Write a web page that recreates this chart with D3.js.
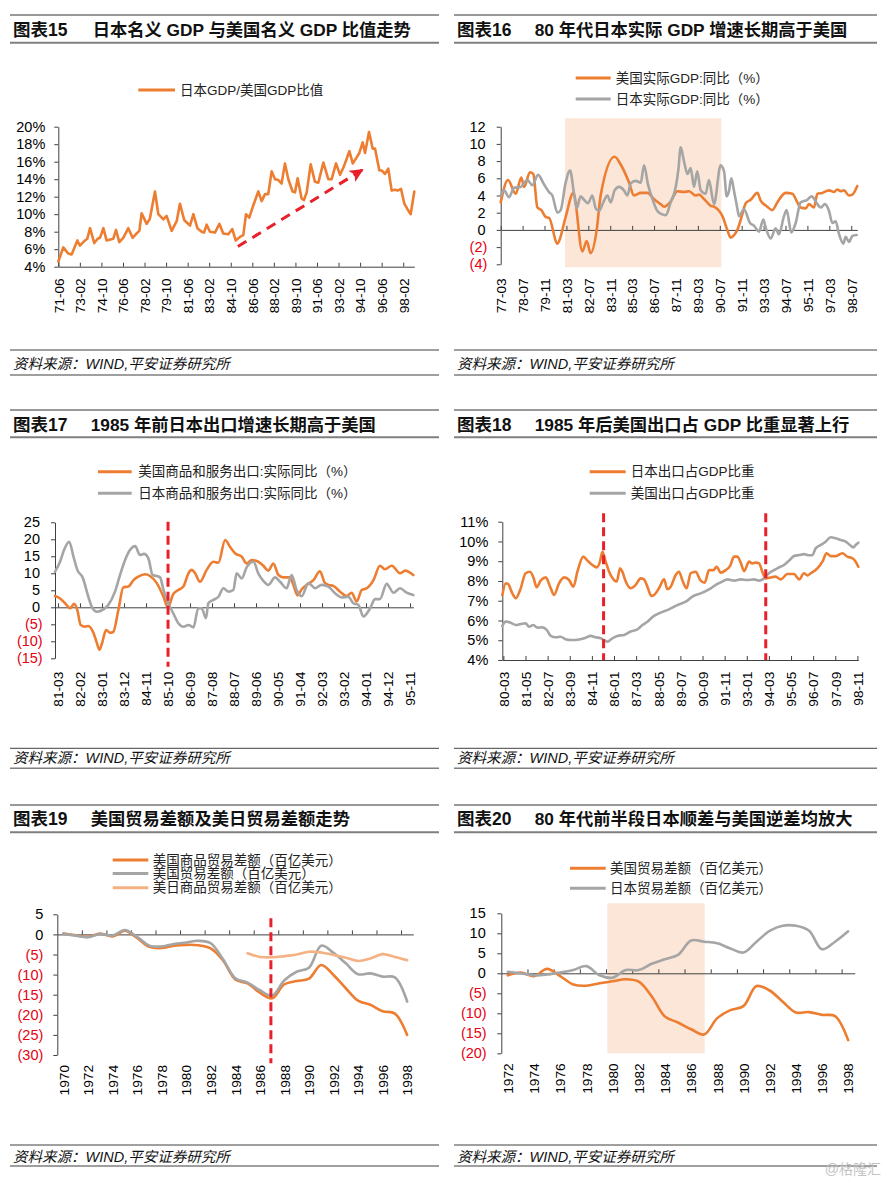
<!DOCTYPE html>
<html><head><meta charset="utf-8">
<script src="https://cdn.jsdelivr.net/npm/d3@7"></script>
<style>
body{margin:0;background:#fff;}
svg{display:block;}
</style></head><body>
<svg id="c" width="888" height="1184"></svg>
<script>
// ---------- DATA ----------
// 图表15: Japan GDP / US GDP ratio (%), [decimal year, value]
const p15Ratio = [[1971.42,4.6],[1971.80,6.2],[1972.19,5.5],[1972.45,5.4],[1972.89,7.0],[1973.09,6.4],[1973.48,7.0],[1973.66,7.2],[1973.87,8.4],[1974.20,6.7],[1974.46,7.2],[1974.64,7.3],[1974.90,8.4],[1975.15,7.0],[1975.67,7.2],[1975.88,8.2],[1976.13,6.8],[1976.44,7.3],[1976.83,8.4],[1977.16,7.3],[1977.47,7.8],[1977.68,8.1],[1977.86,10.1],[1978.25,8.9],[1978.50,9.5],[1978.89,12.6],[1979.15,10.0],[1979.54,9.4],[1979.79,9.8],[1980.18,8.1],[1980.57,9.2],[1980.82,11.2],[1981.16,9.3],[1981.60,8.7],[1981.86,10.0],[1982.17,8.4],[1982.50,8.0],[1982.68,7.9],[1982.89,8.8],[1983.14,8.0],[1983.53,7.9],[1983.87,8.9],[1984.17,7.8],[1984.56,7.7],[1984.87,8.3],[1985.13,7.0],[1985.46,7.4],[1985.72,7.6],[1985.93,10.0],[1986.18,9.6],[1986.49,11.0],[1986.88,12.6],[1987.14,11.5],[1987.40,12.3],[1987.65,12.3],[1987.91,14.9],[1988.17,14.0],[1988.43,13.9],[1988.68,13.5],[1988.94,15.8],[1989.20,14.0],[1989.53,12.6],[1989.72,12.5],[1989.92,14.1],[1990.23,11.8],[1990.41,11.6],[1990.62,12.5],[1990.93,15.7],[1991.26,13.7],[1991.52,13.6],[1991.91,15.9],[1992.29,14.0],[1992.55,14.0],[1992.89,15.8],[1993.20,14.5],[1993.45,15.3],[1993.58,15.8],[1993.92,17.2],[1994.18,15.8],[1994.48,16.5],[1994.69,17.0],[1994.95,18.2],[1995.13,17.0],[1995.44,19.4],[1995.72,17.5],[1995.90,17.5],[1996.24,15.0],[1996.42,15.0],[1996.67,14.6],[1996.93,15.2],[1997.19,12.7],[1997.45,12.8],[1997.65,12.7],[1997.91,12.9],[1998.17,11.2],[1998.40,10.6],[1998.66,10.0],[1998.94,12.6]];
const p15Ticks = ["71-06","73-02","74-10","76-06","78-02","79-10","81-06","83-02","84-10","86-06","88-02","89-10","91-06","93-02","94-10","96-06","98-02"];
const p15YTicks = [4,6,8,10,12,14,16,18,20];
const p15Arrow = [[1985.30,6.3],[1994.96,15.1]];

// 图表16: real GDP yoy (%)
const p16Us = [[1977.17,3.2],[1977.61,5.8],[1978.08,4.2],[1978.42,6.1],[1978.59,5.0],[1978.95,6.7],[1979.15,6.5],[1979.40,2.6],[1979.64,2.3],[1979.91,1.5],[1980.11,1.4],[1980.62,-1.6],[1980.72,-1.3],[1981.12,1.5],[1981.59,4.3],[1982.14,-2.5],[1982.40,-1.3],[1982.64,-2.7],[1983.01,0],[1983.25,4.0],[1984.10,8.5],[1984.47,7.6],[1984.98,5.5],[1985.28,4.0],[1985.69,4.3],[1986.09,4.3],[1986.54,3.5],[1986.90,3.0],[1987.11,2.7],[1987.51,3.3],[1987.92,4.5],[1988.32,4.4],[1988.63,4.5],[1989.03,4.0],[1989.24,4.1],[1989.54,3.6],[1989.95,2.8],[1990.15,2.7],[1990.66,1.6],[1990.96,0],[1991.16,-0.9],[1991.37,-0.6],[1991.57,0],[1991.87,1.8],[1992.08,3.1],[1992.38,3.5],[1992.79,4.3],[1992.99,3.4],[1993.39,2.7],[1993.70,2.3],[1994.00,3.2],[1994.51,4.3],[1994.92,4.2],[1995.22,3.2],[1995.42,2.6],[1995.73,2.5],[1995.93,3.0],[1996.23,2.6],[1996.44,4.2],[1996.74,4.3],[1997.15,4.6],[1997.45,4.4],[1997.65,4.7],[1997.86,4.5],[1998.06,4.6],[1998.36,4.0],[1998.57,4.1],[1998.87,5.1]];
const p16Jp = [[1977.17,4.0],[1977.37,4.6],[1977.67,3.8],[1977.98,4.9],[1978.38,5.0],[1978.79,5.8],[1979.09,5.2],[1979.44,6.4],[1979.80,5.3],[1980.11,4.4],[1980.31,4.0],[1980.62,2.0],[1980.82,2.3],[1981.12,5.5],[1981.39,6.9],[1981.63,4.2],[1981.79,2.5],[1982.03,3.9],[1982.24,3.5],[1982.48,3.1],[1982.74,4.0],[1982.95,2.5],[1983.15,2.2],[1983.41,3.2],[1983.66,4.0],[1983.86,3.2],[1984.10,4.6],[1984.37,5.0],[1984.67,4.6],[1984.87,4.0],[1985.08,5.4],[1985.38,5.7],[1985.69,5.5],[1985.89,7.5],[1986.13,5.3],[1986.40,3.6],[1986.70,2.2],[1987.00,1.8],[1987.21,1.7],[1987.51,3.2],[1987.82,5.0],[1987.98,7.0],[1988.12,9.6],[1988.32,8.0],[1988.53,6.5],[1988.73,7.2],[1988.93,5.0],[1989.13,6.8],[1989.34,4.6],[1989.64,4.2],[1989.84,5.8],[1990.15,3.0],[1990.55,7.5],[1990.76,6.8],[1990.92,3.9],[1991.06,4.5],[1991.20,6.0],[1991.37,4.5],[1991.57,2.5],[1991.67,1.6],[1991.97,2.4],[1992.34,0.8],[1992.58,0.5],[1992.89,-0.2],[1993.15,1.2],[1993.29,0.3],[1993.60,-1.0],[1993.90,0.2],[1994.10,-0.5],[1994.41,1.6],[1994.57,2.3],[1994.85,-0.3],[1995.12,0.8],[1995.42,3.2],[1995.83,3.5],[1996.09,3.9],[1996.44,3.0],[1996.64,2.6],[1996.90,3.0],[1997.15,2.2],[1997.35,0.8],[1997.55,1.0],[1997.76,-0.5],[1998.02,-1.6],[1998.16,-0.8],[1998.36,-1.4],[1998.57,-0.7],[1998.83,-0.6]];
const p16Ticks = ["77-03","78-07","79-11","81-03","82-07","83-11","85-03","86-07","87-11","89-03","90-07","91-11","93-03","94-07","95-11","97-03","98-07"];
const p16YTicks = [-4,-2,0,2,4,6,8,10,12];
const p16Shade = [1981.08, 1990.60];

// 图表17: real exports of goods & services yoy (%)
const p17Us = [[1981.04,3.3],[1981.25,2.6],[1981.46,1.2],[1981.67,-0.3],[1981.83,1.0],[1981.97,-0.8],[1982.11,-5.2],[1982.29,-5.7],[1982.43,-5.5],[1982.64,-7.5],[1982.78,-10.4],[1982.89,-12.5],[1982.99,-10.8],[1983.17,-6.7],[1983.33,-7.5],[1983.47,-7.2],[1983.68,-0.8],[1983.89,5.9],[1984.10,6.1],[1984.31,8.0],[1984.51,9.0],[1984.79,9.7],[1985.00,9.2],[1985.28,7.1],[1985.56,3.1],[1985.74,0],[1985.97,3.9],[1986.18,5.1],[1986.39,6.1],[1986.60,10.0],[1986.74,11.0],[1986.88,10.0],[1987.08,7.5],[1987.36,11.0],[1987.64,13.4],[1987.85,13.1],[1988.13,19.8],[1988.33,17.8],[1988.54,15.9],[1988.82,14.9],[1989.03,12.9],[1989.24,13.9],[1989.51,13.4],[1989.72,12.2],[1989.93,10.8],[1990.14,12.9],[1990.35,9.5],[1990.56,8.8],[1990.83,8.8],[1990.97,6.6],[1991.15,3.5],[1991.32,5.3],[1991.53,6.6],[1991.81,8.0],[1992.08,10.6],[1992.29,7.1],[1992.43,6.6],[1992.64,6.3],[1992.92,4.6],[1993.19,3.3],[1993.40,4.3],[1993.61,1.7],[1993.82,5.1],[1994.03,5.6],[1994.31,8.0],[1994.58,12.2],[1994.79,11.2],[1995.07,12.2],[1995.42,10.0],[1995.63,10.8],[1995.97,9.5]];
const p17Jp = [[1981.04,10.5],[1981.25,13.4],[1981.42,16.9],[1981.63,19.3],[1981.81,14.9],[1981.97,11.0],[1982.19,8.8],[1982.43,3.1],[1982.57,0.2],[1982.78,-1.3],[1983.06,-0.6],[1983.26,0.7],[1983.54,4.6],[1983.75,9.5],[1983.96,13.9],[1984.17,16.9],[1984.38,18.0],[1984.58,15.4],[1984.75,15.7],[1984.93,14.4],[1985.11,9.5],[1985.28,9.2],[1985.42,8.8],[1985.56,5.1],[1985.76,1.2],[1985.97,-1.8],[1986.18,-4.7],[1986.39,-5.7],[1986.60,-5.2],[1986.81,-5.9],[1987.01,-0.3],[1987.15,-0.3],[1987.33,-3.2],[1987.43,1.2],[1987.64,2.2],[1987.85,3.1],[1988.06,5.6],[1988.26,4.6],[1988.47,5.1],[1988.61,10.0],[1988.82,8.5],[1989.03,11.8],[1989.31,13.4],[1989.51,10.0],[1989.72,7.8],[1989.93,6.6],[1990.21,8.8],[1990.42,7.5],[1990.69,5.6],[1990.90,9.5],[1991.11,5.1],[1991.32,3.3],[1991.60,7.1],[1991.88,5.6],[1992.15,6.6],[1992.43,6.1],[1992.71,4.1],[1992.99,2.9],[1993.26,3.1],[1993.47,1.2],[1993.68,0.7],[1993.89,-2.7],[1994.17,-0.3],[1994.38,2.4],[1994.58,2.4],[1994.86,6.9],[1995.14,4.3],[1995.42,5.6],[1995.69,4.3],[1995.97,3.6]];
const p17Ticks = ["81-03","82-02","83-01","83-12","84-11","85-10","86-09","87-08","88-07","89-06","90-05","91-04","92-03","93-02","94-01","94-12","95-11"];
const p17YTicks = [-15,-10,-5,0,5,10,15,20,25];
const p17Marker = ["85-10"];

// 图表18: exports / GDP (%)
const p18Jp = [[1980.11,7.29],[1980.29,7.88],[1980.41,7.85],[1980.64,7.37],[1980.82,7.12],[1981.05,7.54],[1981.34,8.39],[1981.57,8.47],[1981.75,8.18],[1981.92,7.68],[1982.13,8.02],[1982.40,8.18],[1982.63,7.71],[1982.84,7.29],[1983.10,7.88],[1983.37,8.18],[1983.63,8.05],[1983.86,7.71],[1984.07,8.47],[1984.38,9.23],[1984.60,9.03],[1984.86,8.81],[1985.09,8.69],[1985.26,8.98],[1985.39,9.48],[1985.56,8.98],[1985.74,8.47],[1986.00,8.05],[1986.14,7.97],[1986.32,8.64],[1986.44,8.47],[1986.62,7.97],[1986.88,7.63],[1987.14,7.80],[1987.41,8.13],[1987.58,8.08],[1987.76,7.71],[1987.97,7.24],[1988.11,7.29],[1988.37,7.63],[1988.64,8.08],[1988.81,7.58],[1988.99,7.71],[1989.25,8.30],[1989.43,8.47],[1989.60,8.05],[1989.83,7.63],[1990.04,8.39],[1990.31,8.47],[1990.54,8.05],[1990.78,7.91],[1991.01,8.55],[1991.24,8.55],[1991.41,8.72],[1991.63,8.42],[1991.89,8.55],[1992.12,8.76],[1992.33,9.23],[1992.50,9.23],[1992.68,8.93],[1992.86,8.50],[1993.12,8.98],[1993.29,8.89],[1993.47,8.93],[1993.65,8.89],[1993.82,8.47],[1994.00,8.13],[1994.26,8.18],[1994.52,8.22],[1994.79,8.08],[1995.14,8.35],[1995.49,8.35],[1995.76,8.08],[1996.02,8.39],[1996.20,8.28],[1996.37,8.39],[1996.72,8.64],[1996.99,8.98],[1997.21,9.40],[1997.42,9.26],[1997.69,9.26],[1998.04,9.40],[1998.30,9.23],[1998.57,9.15],[1998.74,8.98],[1998.88,8.72]];
const p18Us = [[1980.11,5.72],[1980.29,5.94],[1980.55,5.89],[1980.82,5.77],[1981.08,5.82],[1981.34,5.86],[1981.52,5.69],[1981.75,5.77],[1981.96,5.64],[1982.22,5.65],[1982.45,5.52],[1982.66,5.22],[1982.93,5.15],[1983.19,5.18],[1983.45,5.05],[1983.72,5.01],[1983.98,5.01],[1984.24,5.05],[1984.51,5.13],[1984.77,5.22],[1985.03,5.15],[1985.30,5.10],[1985.47,5.01],[1985.65,4.93],[1985.91,5.10],[1986.18,5.22],[1986.53,5.27],[1986.88,5.44],[1987.23,5.55],[1987.50,5.77],[1987.76,5.94],[1988.11,6.23],[1988.46,6.40],[1988.90,6.56],[1989.34,6.78],[1989.78,6.95],[1990.13,7.21],[1990.57,7.37],[1991.10,7.63],[1991.45,7.85],[1991.71,7.97],[1991.98,8.08],[1992.33,8.02],[1992.68,8.08],[1993.03,8.05],[1993.38,8.08],[1993.65,8.02],[1993.91,8.13],[1994.17,8.39],[1994.44,8.55],[1994.70,8.69],[1994.96,8.81],[1995.23,9.03],[1995.49,9.26],[1995.76,9.31],[1996.02,9.36],[1996.28,9.30],[1996.46,9.31],[1996.63,9.65],[1996.90,9.82],[1997.16,9.99],[1997.42,10.21],[1997.69,10.16],[1997.95,10.07],[1998.22,9.99],[1998.44,9.82],[1998.62,9.70],[1998.74,9.82],[1998.88,9.94]];
const p18Ticks = ["80-03","81-05","82-07","83-09","84-11","86-01","87-03","88-05","89-07","90-09","91-11","93-01","94-03","95-05","96-07","97-09","98-11"];
const p18YTicks = [4,5,6,7,8,9,10,11];
const p18Markers = [1985.45, 1994.0];

// 图表19: trade balances (US$10bn), yearly
const p19Years = [1970,1971,1972,1973,1974,1975,1976,1977,1978,1979,1980,1981,1982,1983,1984,1985,1986,1987,1988,1989,1990,1991,1992,1993,1994,1995,1996,1997,1998];
const p19UsGoods = [0.2,-0.2,-0.6,0.2,-0.5,0.9,-0.9,-3.1,-3.4,-2.8,-2.6,-2.7,-3.5,-6.5,-11.2,-12.2,-14.5,-15.9,-12.4,-11.6,-11.0,-7.6,-10.1,-13.4,-16.5,-17.5,-19.1,-19.7,-25.0];
const p19UsTotal = [0.2,-0.3,-0.7,0.1,-0.3,1.1,-0.6,-2.8,-3.0,-2.4,-2.0,-1.6,-2.2,-6.2,-10.9,-12.0,-13.9,-15.2,-11.4,-9.3,-8.3,-2.8,-4.6,-7.2,-9.9,-9.7,-10.5,-10.7,-16.7];
const p19UsJpYears = [1985,1986,1987,1988,1989,1990,1991,1992,1993,1994,1995,1996,1997,1998];
const p19UsJp = [-4.7,-5.6,-5.7,-5.4,-5.0,-4.3,-4.5,-5.1,-5.8,-6.6,-6.0,-4.9,-5.6,-6.4];
const p19YTicks = [-30,-25,-20,-15,-10,-5,0,5];
const p19Marker = [1986.9];

// 图表20: trade balances (US$10bn), yearly
const p20Years = [1972,1973,1974,1975,1976,1977,1978,1979,1980,1981,1982,1983,1984,1985,1986,1987,1988,1989,1990,1991,1992,1993,1994,1995,1996,1997,1998];
const p20Us = [-0.5,0.2,-0.7,1.1,-0.7,-2.8,-3.1,-2.5,-2.0,-1.5,-2.1,-5.8,-10.8,-12.3,-14.0,-15.3,-11.2,-9.2,-8.2,-3.2,-4.3,-7.1,-9.8,-9.7,-10.4,-10.7,-16.7];
const p20Jp = [0.4,0.0,-0.5,-0.3,0.2,0.8,1.8,-0.5,-1.1,0.8,0.8,2.4,3.5,4.6,8.2,7.9,7.5,6.2,5.2,7.9,10.6,11.9,11.9,10.7,6.0,7.9,10.5];
const p20YTicks = [-20,-15,-10,-5,0,5,10,15];
const p20Shade = [1979.6, 1987.04];

// ---------- DRAWING ----------
const FONT = '"Liberation Sans", Arial, "Noto Sans CJK SC", sans-serif';
const ORANGE = "#ED7D31", GRAY = "#A5A5A5", LIGHT = "#F4B183", RED = "#E8202A", NEG = "#E60012", SHADE = "#FBE6D8", AX = "#404040";
const svg = d3.select("#c");
svg.append("rect").attr("width", 888).attr("height", 1184).attr("fill", "#fff");

const ym = s => 1900 + (+s.slice(0, 2)) + ((+s.slice(3)) - 1) / 12;
const pct = d => d + "%";
const paren = d => d < 0 ? "(" + (-d) + ")" : String(d);

function header(x0, x1, yTop, yMid, yBot, num, title, textX) {
  svg.append("line").attr("x1", x0).attr("x2", x1).attr("y1", yTop).attr("y2", yTop).attr("stroke", "#333").attr("stroke-width", 1);
  svg.append("line").attr("x1", x0).attr("x2", x1).attr("y1", yBot).attr("y2", yBot).attr("stroke", "#7f7f7f").attr("stroke-width", 2);
  svg.append("text").attr("x", x0 + 3).attr("y", yMid).attr("dy", "0.35em").attr("font-family", FONT)
    .attr("font-size", 17.5).attr("font-weight", "bold").attr("fill", "#111").text(num);
  svg.append("text").attr("x", textX).attr("y", yMid).attr("dy", "0.35em").attr("font-family", FONT)
    .attr("font-size", 17.3).attr("font-weight", "bold").attr("fill", "#111").text(title);
}
function footer(x0, x1, y1, yt, y2) {
  svg.append("line").attr("x1", x0).attr("x2", x1).attr("y1", y1).attr("y2", y1).attr("stroke", "#404040").attr("stroke-width", 1);
  svg.append("line").attr("x1", x0).attr("x2", x1).attr("y1", y2).attr("y2", y2).attr("stroke", "#7f7f7f").attr("stroke-width", 1.5);
  svg.append("text").attr("x", x0 + 3).attr("y", yt).attr("dy", "0.35em").attr("font-family", FONT)
    .attr("font-size", 14.5).attr("font-style", "italic").attr("fill", "#111").text("资料来源：WIND,平安证券研究所");
}
function legend(items, lx1, lx2, tx, ys) {
  items.forEach((it, i) => {
    svg.append("line").attr("x1", lx1).attr("x2", lx2).attr("y1", ys[i]).attr("y2", ys[i]).attr("stroke", it.c).attr("stroke-width", 3);
    svg.append("text").attr("x", tx).attr("y", ys[i]).attr("dy", "0.35em").attr("font-family", FONT)
      .attr("font-size", 13.5).attr("fill", "#222").text(it.t);
  });
}

function panel(p) {
  const x = d3.scaleLinear().domain(p.xDomain).range([p.left, p.right]);
  const y = d3.scaleLinear().domain(p.yDomain).range([p.bottom, p.top]);
  if (p.shade) {
    svg.append("rect").attr("x", x(p.shade[0])).attr("width", x(p.shade[1]) - x(p.shade[0]))
      .attr("y", p.top - p.shadeAbove).attr("height", (p.bottom + p.shadeBelow) - (p.top - p.shadeAbove)).attr("fill", SHADE);
  }
  // y axis
  const gy = svg.append("g").attr("transform", `translate(${p.left},0)`).attr("color", AX)
    .call(d3.axisLeft(y).tickValues(p.yTicks).tickFormat(p.yFmt).tickSize(4).tickSizeOuter(0))
    .attr("font-family", FONT).attr("font-size", 14.5);
  gy.selectAll(".tick text").attr("x", d => -p.yGap - (d >= 0 ? p.posExtra : 0)).attr("fill", d => d < 0 ? NEG : "#000");
  // x axis line + tick marks
  svg.append("g").attr("transform", `translate(0,${y(p.xAxisAt)})`).attr("color", AX)
    .call(d3.axisBottom(x).tickValues(p.tickMarks).tickFormat("").tickSize(-4).tickSizeOuter(0));
  // rotated labels
  const gl = svg.append("g").attr("transform", `translate(0,${p.labelTop})`)
    .call(d3.axisBottom(x).tickValues(p.labelVals).tickFormat((d, i) => p.labels[i]).tickSize(0))
    .attr("font-family", FONT).attr("font-size", 13.7);
  gl.select(".domain").remove();
  gl.selectAll(".tick text").attr("x", 0).attr("y", 0).attr("dy", "0.35em").attr("text-anchor", "end")
    .attr("transform", "rotate(-90)").attr("fill", "#000");
  // series
  p.series.forEach(s => {
    svg.append("path").datum(s.data).attr("fill", "none").attr("stroke", s.color).attr("stroke-width", 2.6)
      .attr("stroke-linejoin", "round").attr("stroke-linecap", "round")
      .attr("d", d3.line().x(d => x(d[0])).y(d => y(d[1])).curve(s.curve || d3.curveLinear));
  });
  (p.markers || []).forEach(m => {
    svg.append("line").attr("x1", x(m)).attr("x2", x(m)).attr("y1", p.markerTop).attr("y2", p.markerBottom)
      .attr("stroke", RED).attr("stroke-width", 3).attr("stroke-dasharray", "9,5");
  });
  return { x, y };
}

// ----- 图表15 -----
header(10, 439, 15, 29.5, 42.7, "图表15", "日本名义 GDP 与美国名义 GDP 比值走势", 92.7);
legend([{ t: "日本GDP/美国GDP比值", c: ORANGE }], 138.3, 175, 180, [90]);
const s15 = panel({
  left: 58.3, right: 414.3, top: 126.7, bottom: 266.7, xDomain: [1971.417, 1998.94], yDomain: [4, 20],
  yTicks: p15YTicks, yFmt: pct, yGap: 13, posExtra: 0, xAxisAt: 4,
  tickMarks: p15Ticks.map(ym), labelVals: p15Ticks.map(ym), labels: p15Ticks, labelTop: 278.3,
  series: [{ data: p15Ratio, color: ORANGE }]
});
const defs = svg.append("defs");
defs.append("marker").attr("id", "ah").attr("markerUnits", "userSpaceOnUse").attr("markerWidth", 16).attr("markerHeight", 14)
  .attr("refX", 13).attr("refY", 6.5).attr("orient", "auto")
  .append("path").attr("d", "M0,0 L14,6.5 L0,13 L3.5,6.5 Z").attr("fill", RED);
svg.append("path").datum(p15Arrow).attr("fill", "none").attr("stroke", RED).attr("stroke-width", 3)
  .attr("stroke-dasharray", "10,7").attr("marker-end", "url(#ah)")
  .attr("d", d3.line().x(d => s15.x(d[0])).y(d => s15.y(d[1])));
footer(10, 439, 350, 364, 375);

// ----- 图表16 -----
header(454, 877, 15, 29.5, 42.7, "图表16", "80 年代日本实际 GDP 增速长期高于美国", 534.7);
legend([{ t: "美国实际GDP:同比（%）", c: ORANGE }, { t: "日本实际GDP:同比（%）", c: GRAY }], 575.7, 610.7, 615.7, [78, 99]);
panel({
  left: 500.7, right: 857.3, top: 126.7, bottom: 264.3, xDomain: [1977.167, 1998.87], yDomain: [-4, 12],
  yTicks: p16YTicks, yFmt: paren, yGap: 13.4, posExtra: 1.6, xAxisAt: 0,
  shade: p16Shade, shadeAbove: 8.4, shadeBelow: 3,
  tickMarks: p16Ticks.map(ym), labelVals: p16Ticks.map(ym), labels: p16Ticks, labelTop: 278.3,
  series: [{ data: p16Us, color: ORANGE, curve: d3.curveMonotoneX }, { data: p16Jp, color: GRAY, curve: d3.curveMonotoneX }]
});
footer(454, 877, 350, 364, 375);

// ----- 图表17 -----
header(10, 439, 410, 425.3, 437.3, "图表17", "1985 年前日本出口增速长期高于美国", 90.7);
legend([{ t: "美国商品和服务出口:实际同比（%）", c: ORANGE }, { t: "日本商品和服务出口:实际同比（%）", c: GRAY }], 98, 131.7, 138.3, [471.7, 493.3]);
panel({
  left: 55, right: 413.3, top: 522.3, bottom: 658.3, xDomain: [1981.04, 1995.97], yDomain: [-15, 25],
  yTicks: p17YTicks, yFmt: paren, yGap: 12.3, posExtra: 2.7, xAxisAt: 0,
  tickMarks: p17Ticks.map(ym), labelVals: p17Ticks.map(ym), labels: p17Ticks, labelTop: 671.7,
  series: [{ data: p17Us, color: ORANGE, curve: d3.curveMonotoneX }, { data: p17Jp, color: GRAY, curve: d3.curveMonotoneX }],
  markers: p17Marker.map(ym), markerTop: 521.7, markerBottom: 666.7
});
footer(10, 439, 748.3, 758.3, 768.3);

// ----- 图表18 -----
header(454, 877, 410, 425.3, 437.3, "图表18", "1985 年后美国出口占 GDP 比重显著上行", 534.7);
legend([{ t: "日本出口占GDP比重", c: ORANGE }, { t: "美国出口占GDP比重", c: GRAY }], 589.7, 625.7, 630.7, [471.7, 493.3]);
panel({
  left: 502.3, right: 858.3, top: 521.7, bottom: 660, xDomain: [1980.11, 1998.88], yDomain: [4, 11],
  yTicks: p18YTicks, yFmt: pct, yGap: 14, posExtra: 0, xAxisAt: 4,
  tickMarks: p18Ticks.map(ym), labelVals: p18Ticks.map(ym), labels: p18Ticks, labelTop: 671.7,
  series: [{ data: p18Jp, color: ORANGE, curve: d3.curveMonotoneX }, { data: p18Us, color: GRAY, curve: d3.curveMonotoneX }],
  markers: p18Markers, markerTop: 513.3, markerBottom: 660
});
footer(454, 877, 748.3, 758.3, 768.3);

// ----- 图表19 -----
header(10, 439, 805, 818.7, 832.3, "图表19", "美国贸易差额及美日贸易差额走势", 90.7);
legend([{ t: "美国商品贸易差额（百亿美元）", c: ORANGE }, { t: "美国贸易差额（百亿美元）", c: GRAY }, { t: "美日商品贸易差额（百亿美元）", c: LIGHT }],
  112.7, 148.3, 152.7, [860, 873.5, 887.7]);
const lab19 = p19Years.filter(d => d % 2 === 0);
panel({
  left: 57.3, right: 413.3, top: 914.3, bottom: 1055, xDomain: [1969.5, 1998.5], yDomain: [-30, 5],
  yTicks: p19YTicks, yFmt: paren, yGap: 14, posExtra: 0, xAxisAt: 0,
  tickMarks: lab19.slice(0, -1).map(d => d + 1.5), labelVals: lab19, labels: lab19.map(String), labelTop: 1065,
  series: [
    { data: p19Years.map((d, i) => [d, p19UsGoods[i]]), color: ORANGE, curve: d3.curveCatmullRom },
    { data: p19Years.map((d, i) => [d, p19UsTotal[i]]), color: GRAY, curve: d3.curveCatmullRom },
    { data: p19UsJpYears.map((d, i) => [d, p19UsJp[i]]), color: LIGHT, curve: d3.curveCatmullRom }
  ],
  markers: p19Marker, markerTop: 918.3, markerBottom: 1063.3
});
footer(10, 439, 1145, 1156.7, 1166);

// ----- 图表20 -----
header(454, 877, 805, 818.7, 832.3, "图表20", "80 年代前半段日本顺差与美国逆差均放大", 534.7);
legend([{ t: "美国贸易差额（百亿美元）", c: ORANGE }, { t: "日本贸易差额（百亿美元）", c: GRAY }], 570, 605.7, 610, [868.3, 888.3]);
const lab20 = p20Years.filter(d => d % 2 === 0);
panel({
  left: 501.3, right: 854.7, top: 913.3, bottom: 1053.3, xDomain: [1971.5, 1998.5], yDomain: [-20, 15],
  yTicks: p20YTicks, yFmt: paren, yGap: 14.6, posExtra: 1, xAxisAt: 0,
  shade: p20Shade, shadeAbove: 10, shadeBelow: 0,
  tickMarks: lab20.slice(0, -1).map(d => d + 1.5), labelVals: lab20, labels: lab20.map(String), labelTop: 1063.3,
  series: [
    { data: p20Years.map((d, i) => [d, p20Us[i]]), color: ORANGE, curve: d3.curveCatmullRom },
    { data: p20Years.map((d, i) => [d, p20Jp[i]]), color: GRAY, curve: d3.curveCatmullRom }
  ]
});
footer(454, 877, 1145, 1156.7, 1166);

svg.append("text").attr("x", 881).attr("y", 1169).attr("dy", "0.35em").attr("text-anchor", "end")
  .attr("font-family", FONT).attr("font-size", 14).attr("fill", "#c4c4c4").text("@格隆汇");
</script>
</body></html>
